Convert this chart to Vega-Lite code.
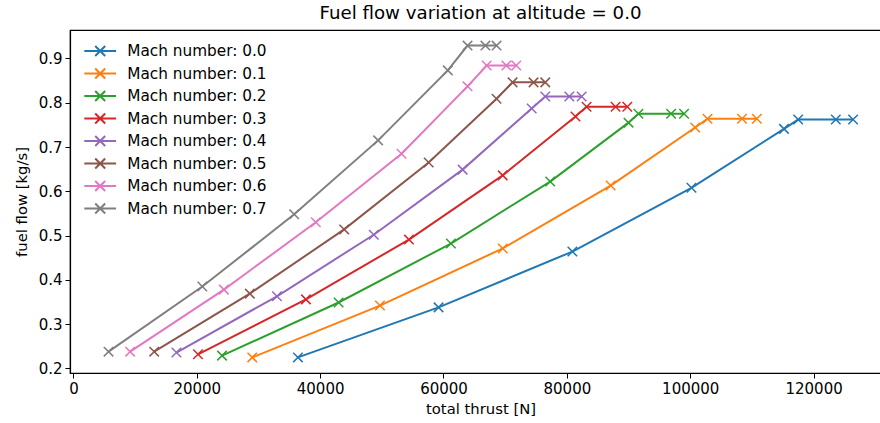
{
  "$schema": "https://vega.github.io/schema/vega-lite/v6.json",
  "width": 821,
  "height": 343,
  "autosize": {"type": "none"},
  "padding": {"left": 70, "top": 30, "right": 0, "bottom": 50},
  "background": "white",
  "title": {"text": "Fuel flow variation at altitude = 0.0", "fontSize": 18.2, "font": "DejaVu Sans", "fontWeight": "normal", "color": "black", "offset": 7},
  "config": {
    "font": "DejaVu Sans",
    "view": {"stroke": "black", "strokeWidth": 1.2},
    "axis": {
      "grid": false, "domainColor": "black", "domainWidth": 1.2, "tickColor": "black", "tickSize": 5, "tickWidth": 1,
      "labelColor": "black", "labelFontSize": 15, "labelFont": "DejaVu Sans", "labelPadding": 3,
      "titleColor": "black", "titleFontSize": 14.8, "titleFont": "DejaVu Sans", "titleFontWeight": "normal"
    },
    "legend": {
      "orient": "none", "legendX": 17.7, "legendY": 8.5, "padding": 0, "rowPadding": 0.5,
      "symbolType": "M-1.41,0H1.41M-0.44,-0.44L0.44,0.44M-0.44,0.44L0.44,-0.44",
      "symbolSize": 509, "symbolStrokeWidth": 2, "symbolFillColor": "transparent",
      "labelFontSize": 15.3, "labelFont": "DejaVu Sans", "labelColor": "black", "labelOffset": 14.5, "labelLimit": 400
    }
  },
  "data": {"values": [
    {"s": "Mach number: 0.0", "t": 36400, "f": 0.225},
    {"s": "Mach number: 0.0", "t": 59200, "f": 0.338},
    {"s": "Mach number: 0.0", "t": 80900, "f": 0.464},
    {"s": "Mach number: 0.0", "t": 100200, "f": 0.608},
    {"s": "Mach number: 0.0", "t": 115200, "f": 0.741},
    {"s": "Mach number: 0.0", "t": 117500, "f": 0.762},
    {"s": "Mach number: 0.0", "t": 123600, "f": 0.762},
    {"s": "Mach number: 0.0", "t": 126400, "f": 0.762},
    {"s": "Mach number: 0.1", "t": 29000, "f": 0.225},
    {"s": "Mach number: 0.1", "t": 49700, "f": 0.342},
    {"s": "Mach number: 0.1", "t": 69600, "f": 0.471},
    {"s": "Mach number: 0.1", "t": 87100, "f": 0.613},
    {"s": "Mach number: 0.1", "t": 100800, "f": 0.744},
    {"s": "Mach number: 0.1", "t": 102800, "f": 0.764},
    {"s": "Mach number: 0.1", "t": 108400, "f": 0.764},
    {"s": "Mach number: 0.1", "t": 110800, "f": 0.764},
    {"s": "Mach number: 0.2", "t": 24100, "f": 0.229},
    {"s": "Mach number: 0.2", "t": 43000, "f": 0.349},
    {"s": "Mach number: 0.2", "t": 61200, "f": 0.482},
    {"s": "Mach number: 0.2", "t": 77300, "f": 0.622},
    {"s": "Mach number: 0.2", "t": 90000, "f": 0.755},
    {"s": "Mach number: 0.2", "t": 91600, "f": 0.775},
    {"s": "Mach number: 0.2", "t": 96900, "f": 0.775},
    {"s": "Mach number: 0.2", "t": 99000, "f": 0.775},
    {"s": "Mach number: 0.3", "t": 20200, "f": 0.232},
    {"s": "Mach number: 0.3", "t": 37700, "f": 0.356},
    {"s": "Mach number: 0.3", "t": 54400, "f": 0.491},
    {"s": "Mach number: 0.3", "t": 69600, "f": 0.636},
    {"s": "Mach number: 0.3", "t": 81400, "f": 0.769},
    {"s": "Mach number: 0.3", "t": 83200, "f": 0.791},
    {"s": "Mach number: 0.3", "t": 87900, "f": 0.791},
    {"s": "Mach number: 0.3", "t": 89800, "f": 0.791},
    {"s": "Mach number: 0.4", "t": 16700, "f": 0.236},
    {"s": "Mach number: 0.4", "t": 33000, "f": 0.363},
    {"s": "Mach number: 0.4", "t": 48700, "f": 0.502},
    {"s": "Mach number: 0.4", "t": 63100, "f": 0.649},
    {"s": "Mach number: 0.4", "t": 74300, "f": 0.787},
    {"s": "Mach number: 0.4", "t": 76500, "f": 0.814},
    {"s": "Mach number: 0.4", "t": 80400, "f": 0.814},
    {"s": "Mach number: 0.4", "t": 82400, "f": 0.814},
    {"s": "Mach number: 0.5", "t": 13100, "f": 0.238},
    {"s": "Mach number: 0.5", "t": 28600, "f": 0.369},
    {"s": "Mach number: 0.5", "t": 43900, "f": 0.514},
    {"s": "Mach number: 0.5", "t": 57600, "f": 0.665},
    {"s": "Mach number: 0.5", "t": 68600, "f": 0.809},
    {"s": "Mach number: 0.5", "t": 71200, "f": 0.846},
    {"s": "Mach number: 0.5", "t": 74600, "f": 0.846},
    {"s": "Mach number: 0.5", "t": 76500, "f": 0.846},
    {"s": "Mach number: 0.6", "t": 9200, "f": 0.238},
    {"s": "Mach number: 0.6", "t": 24400, "f": 0.378},
    {"s": "Mach number: 0.6", "t": 39300, "f": 0.53},
    {"s": "Mach number: 0.6", "t": 53200, "f": 0.685},
    {"s": "Mach number: 0.6", "t": 63900, "f": 0.837},
    {"s": "Mach number: 0.6", "t": 67000, "f": 0.884},
    {"s": "Mach number: 0.6", "t": 70200, "f": 0.884},
    {"s": "Mach number: 0.6", "t": 71800, "f": 0.884},
    {"s": "Mach number: 0.7", "t": 5700, "f": 0.238},
    {"s": "Mach number: 0.7", "t": 20900, "f": 0.385},
    {"s": "Mach number: 0.7", "t": 35800, "f": 0.548},
    {"s": "Mach number: 0.7", "t": 49400, "f": 0.715},
    {"s": "Mach number: 0.7", "t": 60700, "f": 0.873},
    {"s": "Mach number: 0.7", "t": 63900, "f": 0.929},
    {"s": "Mach number: 0.7", "t": 66800, "f": 0.929},
    {"s": "Mach number: 0.7", "t": 68600, "f": 0.929}
  ]},
  "encoding": {
    "x": {"field": "t", "type": "quantitative", "title": "total thrust [N]",
      "scale": {"domain": [-550, 132550], "nice": false, "zero": false},
      "axis": {"values": [0, 20000, 40000, 60000, 80000, 100000, 120000], "format": "d", "titlePadding": 5.5}},
    "y": {"field": "f", "type": "quantitative", "title": "fuel flow [kg/s]",
      "scale": {"domain": [0.1898, 0.9642], "nice": false, "zero": false},
      "axis": {"values": [0.2, 0.3, 0.4, 0.5, 0.6, 0.7, 0.8, 0.9], "format": ".1f", "titlePadding": 9}},
    "color": {"field": "s", "type": "nominal", "title": null,
      "scale": {"domain": ["Mach number: 0.0", "Mach number: 0.1", "Mach number: 0.2", "Mach number: 0.3", "Mach number: 0.4", "Mach number: 0.5", "Mach number: 0.6", "Mach number: 0.7"],
        "range": ["#1f77b4", "#ff7f0e", "#2ca02c", "#d62728", "#9467bd", "#8c564b", "#e377c2", "#7f7f7f"]}}
  },
  "layer": [
    {"mark": {"type": "line", "strokeWidth": 2, "clip": true}},
    {"mark": {"type": "point", "shape": "M-1,-1L1,1M-1,1L1,-1", "filled": false, "size": 90, "strokeWidth": 1.5, "opacity": 1, "clip": true}}
  ]
}
